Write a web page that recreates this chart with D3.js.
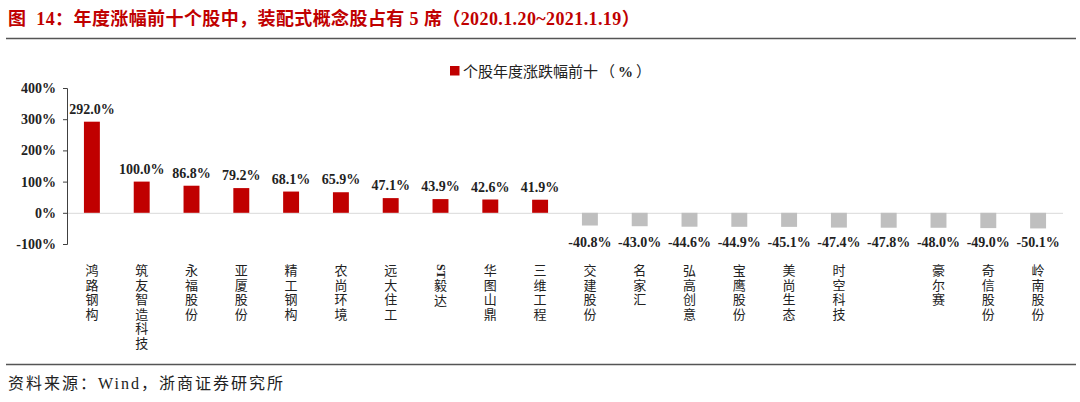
<!DOCTYPE html>
<html><head><meta charset="utf-8">
<script src="https://cdn.jsdelivr.net/npm/d3@7"></script>
<style>body{margin:0;background:#fff}svg{display:block}</style>
</head><body><svg id="c" width="1080" height="402"></svg>
<script>
const categories = ["鸿路钢构","筑友智造科技","永福股份","亚厦股份","精工钢构","农尚环境","远大住工","ST毅达","华图山鼎","三维工程","交建股份","名家汇","弘高创意","宝鹰股份","美尚生态","时空科技","","豪尔赛","奇信股份","岭南股份"];
const values = [292.0,100.0,86.8,79.2,68.1,65.9,47.1,43.9,42.6,41.9,-40.8,-43.0,-44.6,-44.9,-45.1,-47.4,-47.8,-48.0,-49.0,-50.1];
const yTicks = [-100,0,100,200,300,400];
const titleHead = "图";
const titleRest = " 14：年度涨幅前十个股中，装配式概念股占有 5 席（2020.1.20~2021.1.19）";
const legendLabel = "个股年度涨跌幅前十";
const legendUnit = ["（","%","）"];
const source = "资料来源：Wind，浙商证券研究所";

const svg = d3.select("#c");
const FONT = "'Liberation Serif','Noto Sans CJK SC',serif";
const CJK = "'Noto Sans CJK SC','Liberation Serif',sans-serif";

const tt = svg.append("text").attr("x",8).attr("y",25).attr("fill","#C00000").attr("font-weight","bold")
  .attr("font-size",18).attr("letter-spacing",0.4).attr("font-family",FONT);
tt.append("tspan").text(titleHead);
tt.append("tspan").attr("dx",5).text(titleRest);
svg.append("line").attr("x1",6).attr("x2",1076).attr("y1",38.5).attr("y2",38.5).attr("stroke","#555").attr("stroke-width",1.5);
svg.append("line").attr("x1",6).attr("x2",1076).attr("y1",364.5).attr("y2",364.5).attr("stroke","#555").attr("stroke-width",1.5);
svg.append("text").attr("x",8).attr("y",389).attr("fill","#222").attr("font-size",16).attr("letter-spacing",2).attr("font-family",FONT).text(source);

// legend
svg.append("rect").attr("x",450).attr("y",66).attr("width",9.5).attr("height",9.5).attr("fill","#C00000");
const lt = svg.append("text").attr("x",463).attr("y",77).attr("font-size",15).attr("font-family",CJK).attr("fill","#222");
lt.append("tspan").text(legendLabel);
lt.append("tspan").attr("dx",2).text(legendUnit[0]);
lt.append("tspan").attr("dx",3).attr("font-family",FONT).attr("font-weight","bold").text(legendUnit[1]);
lt.append("tspan").attr("dx",3).text(legendUnit[2]);

const x = d3.scaleBand().domain(d3.range(categories.length)).range([67,1063]).paddingInner(0.68).paddingOuter(0.34);
const y = d3.scaleLinear().domain([-100,400]).range([244,88]);

// zero line
svg.append("line").attr("x1",67).attr("x2",1063).attr("y1",y(0)+0.5).attr("y2",y(0)+0.5).attr("stroke","#d9d9d9").attr("stroke-width",1);

const ax = svg.append("g").attr("transform","translate(67,0)")
  .call(d3.axisLeft(y).tickValues(yTicks).tickSize(4).tickFormat(d=>d+"%"));
ax.select(".domain").attr("stroke","#404040");
ax.selectAll(".tick line").attr("stroke","#404040");
ax.selectAll("text").attr("font-family",FONT).attr("font-size",14).attr("font-weight","bold").attr("fill","#222").attr("dx",-4);

svg.append("g").selectAll("rect").data(values).join("rect")
  .attr("x",(d,i)=>x(i)).attr("width",x.bandwidth())
  .attr("y",d=>y(Math.max(0,d))).attr("height",d=>Math.abs(y(d)-y(0)))
  .attr("fill",d=>d>=0?"#C00000":"#BFBFBF");

svg.append("g").selectAll("text").data(values).join("text")
  .attr("x",(d,i)=>x(i)+x.bandwidth()/2)
  .attr("y",d=>d>=0? y(d)-8 : 247)
  .attr("text-anchor","middle").attr("font-family",FONT).attr("font-size",14).attr("font-weight","bold").attr("fill","#222")
  .text(d=>d.toFixed(1)+"%");

// vertical category labels, one character per line
const lab = svg.append("g");
categories.forEach((c,i)=>{
  const cx = x(i)+x.bandwidth()/2;
  let s = c;
  let yy = 275;
  if (s.startsWith("ST")) {
    lab.append("text").attr("transform",`translate(${cx-4},${yy-11}) rotate(90)`)
      .attr("font-family",FONT).attr("font-size",12).attr("font-weight","bold").attr("fill","#222").text("ST");
    s = s.slice(2);
    yy += 15;
  }
  for (const ch of s) {
    lab.append("text").attr("x",cx).attr("y",yy).attr("text-anchor","middle")
      .attr("font-family",FONT).attr("font-size",13).attr("fill","#222").text(ch);
    yy += 14.6;
  }
});
</script></body></html>
